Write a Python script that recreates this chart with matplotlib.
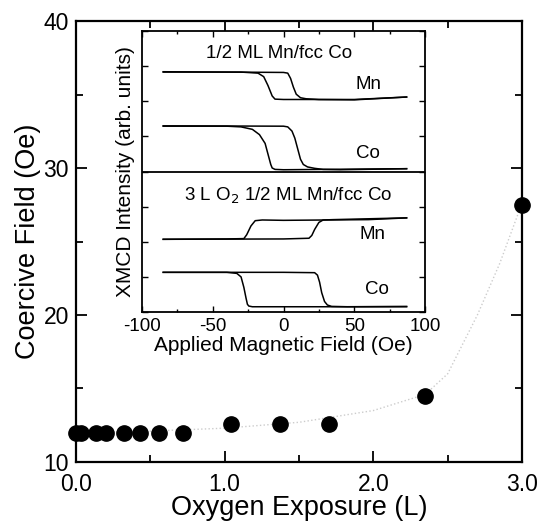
import numpy as np
import matplotlib
matplotlib.use("Agg")
from matplotlib import pyplot as plt
from matplotlib.ticker import MultipleLocator

plt.rcParams['font.family'] = ['Liberation Sans', 'DejaVu Sans']
plt.rcParams['axes.unicode_minus'] = False

# Main panel: coercive field vs oxygen exposure
exposure = [0.0, 0.035, 0.135, 0.20, 0.32, 0.43, 0.555, 0.72, 1.04, 1.37, 1.70, 2.345, 3.0]
coercive = [12.0, 12.0, 12.0, 12.0, 12.0, 12.0, 12.0, 12.0, 12.6, 12.6, 12.6, 14.5, 27.5]

# faint guide curve through the points
guide_x = [0.0, 0.5, 1.0, 1.5, 2.0, 2.35, 2.5, 2.7, 2.85, 3.0]
guide_y = [12.0, 12.1, 12.3, 12.7, 13.5, 14.6, 16.0, 20.0, 23.5, 27.6]

# Inset: XMCD hysteresis loops, two branches each
mn_top_a_x = [-85, -30, -18, -14, -11, -8, -6, 0, 20, 50, 87]
mn_top_a_y = [6.83, 6.83, 6.80, 6.70, 6.45, 6.15, 6.06, 6.05, 6.05, 6.04, 6.12]
mn_top_b_x = [-85, -40, 0, 3, 5, 7, 9, 12, 16, 25, 50, 87]
mn_top_b_y = [6.84, 6.83, 6.82, 6.80, 6.65, 6.40, 6.20, 6.10, 6.07, 6.05, 6.05, 6.12]

co_top_a_x = [-85, -40, -30, -22, -17, -13, -11, -9, -8, -6, 0, 87]
co_top_a_y = [5.29, 5.29, 5.27, 5.20, 5.05, 4.80, 4.50, 4.20, 4.10, 4.06, 4.05, 4.08]
co_top_b_x = [-85, 0, 3, 6, 8, 10, 12, 14, 17, 22, 28, 40, 87]
co_top_b_y = [5.30, 5.29, 5.27, 5.15, 4.95, 4.65, 4.35, 4.20, 4.13, 4.09, 4.06, 4.05, 4.08]

mn_bot_a_x = [-85, -40, -28, -26, -23, -20, -15, 0, 30, 60, 87]
mn_bot_a_y = [2.07, 2.08, 2.09, 2.20, 2.45, 2.60, 2.62, 2.61, 2.62, 2.63, 2.68]
mn_bot_b_x = [-85, 0, 18, 20, 22, 25, 28, 35, 87]
mn_bot_b_y = [2.07, 2.08, 2.10, 2.18, 2.35, 2.55, 2.62, 2.63, 2.68]

co_bot_a_x = [-85, -40, -33, -30, -28, -26.5, -25.5, -24.5, -22, 0, 87]
co_bot_a_y = [1.13, 1.13, 1.10, 1.00, 0.70, 0.40, 0.22, 0.17, 0.15, 0.15, 0.15]
co_bot_b_x = [-85, 0, 22, 24, 25.5, 27, 29, 31, 34, 45, 87]
co_bot_b_y = [1.13, 1.13, 1.12, 1.05, 0.85, 0.55, 0.30, 0.20, 0.16, 0.15, 0.16]

fig = plt.figure(figsize=(5.43, 5.26), dpi=100)
ax = fig.add_axes([0.14, 0.1217, 0.8213, 0.8383])

ax.plot(guide_x, guide_y, color='0.8', linestyle=':', linewidth=1.0, zorder=1)
ax.plot(exposure, coercive, 'o', color='black', markersize=11, zorder=3, clip_on=False)

ax.set_xlim(0, 3)
ax.set_ylim(10, 40)
ax.xaxis.set_minor_locator(MultipleLocator(0.5))
ax.yaxis.set_major_locator(MultipleLocator(10))
ax.yaxis.set_minor_locator(MultipleLocator(5))
ax.set_xticks([0, 1, 2, 3])
ax.set_xticklabels(['0.0', '1.0', '2.0', '3.0'])
ax.tick_params(which='both', direction='in', top=True, right=True, width=1.3, labelsize=16.5)
ax.tick_params(which='major', length=8)
ax.tick_params(which='minor', length=5)
ax.tick_params(axis='x', pad=8)
ax.tick_params(axis='y', pad=5)
for s in ax.spines.values():
    s.set_linewidth(1.6)
ax.set_xlabel('Oxygen Exposure (L)', fontsize=19.5, labelpad=-1)
ax.set_ylabel('Coercive Field (Oe)', fontsize=19.5, labelpad=2)

# Inset
ins = fig.add_axes([0.2615, 0.4068, 0.5212, 0.5343])
lw = 1.1
for xs, ys in [(mn_top_a_x, mn_top_a_y), (mn_top_b_x, mn_top_b_y),
               (co_top_a_x, co_top_a_y), (co_top_b_x, co_top_b_y),
               (mn_bot_a_x, mn_bot_a_y), (mn_bot_b_x, mn_bot_b_y),
               (co_bot_a_x, co_bot_a_y), (co_bot_b_x, co_bot_b_y)]:
    ins.plot(xs, ys, color='black', linewidth=lw)
ins.axhline(4, color='black', linewidth=1.3)

ins.set_xlim(-100, 100)
ins.set_ylim(0, 8)
ins.xaxis.set_major_locator(MultipleLocator(50))
ins.xaxis.set_minor_locator(MultipleLocator(25))
ins.yaxis.set_major_locator(MultipleLocator(1))
ins.tick_params(which='both', direction='in', top=True, right=True, width=1.0, labelsize=13.5)
ins.tick_params(which='major', length=4, pad=4)
ins.tick_params(which='minor', length=2.5)
ins.tick_params(axis='y', labelleft=False)
for s in ins.spines.values():
    s.set_linewidth(1.3)
ins.set_xlabel('Applied Magnetic Field (Oe)', fontsize=15, labelpad=1)
ins.set_ylabel('XMCD Intensity (arb. units)', fontsize=15, labelpad=5)

fs = 13.5
ins.text(-3, 7.37, '1/2 ML Mn/fcc Co', fontsize=fs, ha='center', va='center')
ins.text(60, 6.48, 'Mn', fontsize=fs, ha='center', va='center')
ins.text(60, 4.5, 'Co', fontsize=fs, ha='center', va='center')
ins.text(3, 3.31, '3 L O$_2$ 1/2 ML Mn/fcc Co', fontsize=fs, ha='center', va='center')
ins.text(63, 2.22, 'Mn', fontsize=fs, ha='center', va='center')
ins.text(66, 0.64, 'Co', fontsize=fs, ha='center', va='center')

fig.savefig('out.png', dpi=100)
